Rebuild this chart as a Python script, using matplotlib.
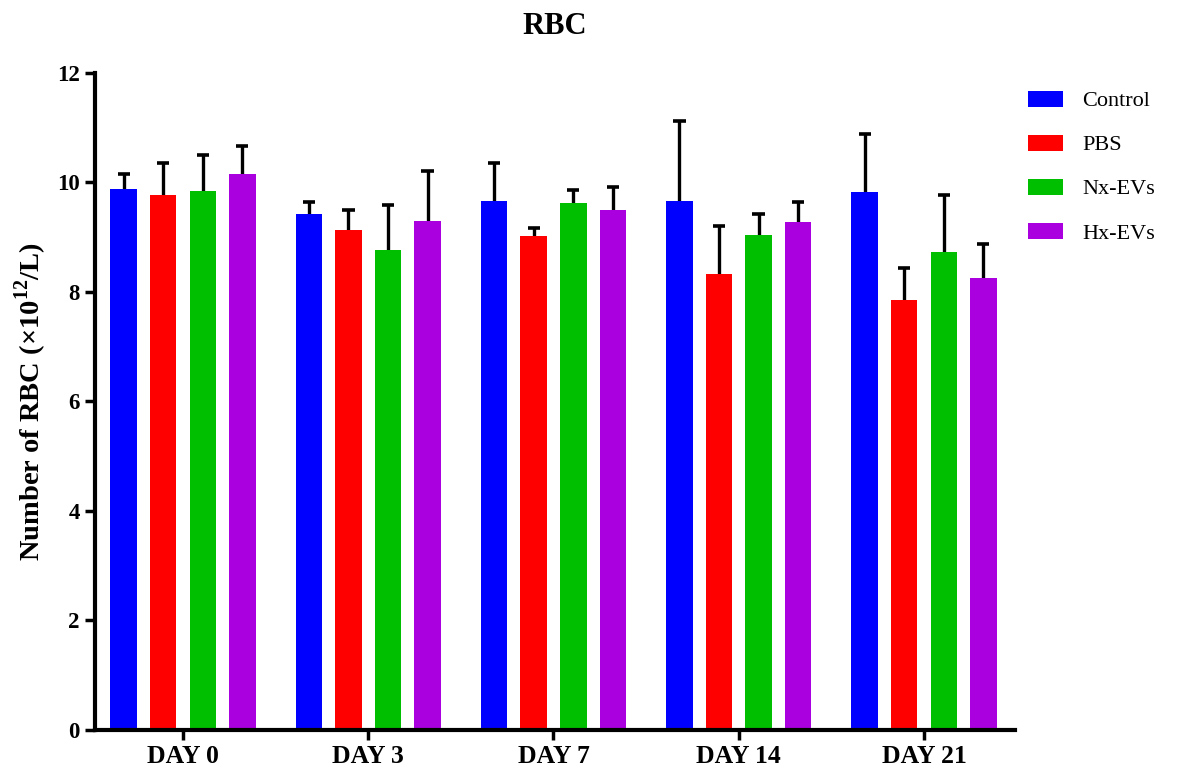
import numpy as np
import matplotlib
matplotlib.use("Agg")
import matplotlib.pyplot as plt

plt.rcParams['font.family'] = ['Liberation Serif', 'DejaVu Serif']
plt.rcParams['mathtext.fontset'] = 'custom'
plt.rcParams['mathtext.rm'] = 'Liberation Serif:bold'
plt.rcParams['mathtext.bf'] = 'Liberation Serif:bold'

days = ["DAY 0", "DAY 3", "DAY 7", "DAY 14", "DAY 21"]
groups = ["Control", "PBS", "Nx-EVs", "Hx-EVs"]
colors = ["#0000ff", "#ff0000", "#00bf00", "#aa00e0"]

# means and upper error (SD)
control = [9.89, 9.42, 9.66, 9.66, 9.82]
control_sd = [0.26, 0.23, 0.70, 1.46, 1.06]
pbs = [9.78, 9.14, 9.02, 8.33, 7.85]
pbs_sd = [0.58, 0.36, 0.14, 0.87, 0.59]
nx = [9.85, 8.76, 9.63, 9.04, 8.73]
nx_sd = [0.66, 0.82, 0.23, 0.38, 1.05]
hx = [10.16, 9.30, 9.50, 9.27, 8.25]
hx_sd = [0.50, 0.91, 0.41, 0.37, 0.63]

means = [control, pbs, nx, hx]
sds = [control_sd, pbs_sd, nx_sd, hx_sd]

fig = plt.figure(figsize=(11.83, 7.78), dpi=100)
ax = fig.add_axes([0.0803, 0.0617, 0.7775, 0.8445])

x = np.arange(len(days))
pitch = 0.2135
width = 0.143
cap = 0.033
for i, (m, s) in enumerate(zip(means, sds)):
    pos = x + (i - 1.5) * pitch
    m = np.array(m)
    top = m + np.array(s)
    ax.bar(pos, m, width, color=colors[i], label=groups[i], zorder=2)
    # upper-only error bars
    ax.vlines(pos, m, top, color='black', linewidth=2.4, zorder=1)
    ax.hlines(top, pos - cap, pos + cap, color='black', linewidth=2.6, zorder=1)

ax.set_xlim(-0.475, 4.49)
ax.set_ylim(0, 12)
ax.set_yticks([0, 2, 4, 6, 8, 10, 12])
ax.set_xticks(x)
ax.set_xticklabels(days)

for side in ["top", "right"]:
    ax.spines[side].set_visible(False)
for side in ["left", "bottom"]:
    ax.spines[side].set_linewidth(3)
ax.tick_params(axis='both', width=2.5, length=7, pad=4)
ax.tick_params(axis='x', labelsize=18.5)
ax.tick_params(axis='y', labelsize=16.5)
for lab in ax.get_xticklabels() + ax.get_yticklabels():
    lab.set_fontweight('bold')

ax.set_ylabel(r"Number of RBC (×10$^{12}$/L)", fontsize=20.5,
              fontweight='bold', labelpad=6)
ax.set_title("RBC", fontsize=22, fontweight='bold', pad=28)

ax.legend(loc='upper left', bbox_to_anchor=(0.995, 1.0), frameon=False,
          fontsize=16, handlelength=1.58, handleheight=0.72, labelspacing=1.05,
          handletextpad=0.86, borderaxespad=0.4)

fig.savefig("out.png", dpi=100)
